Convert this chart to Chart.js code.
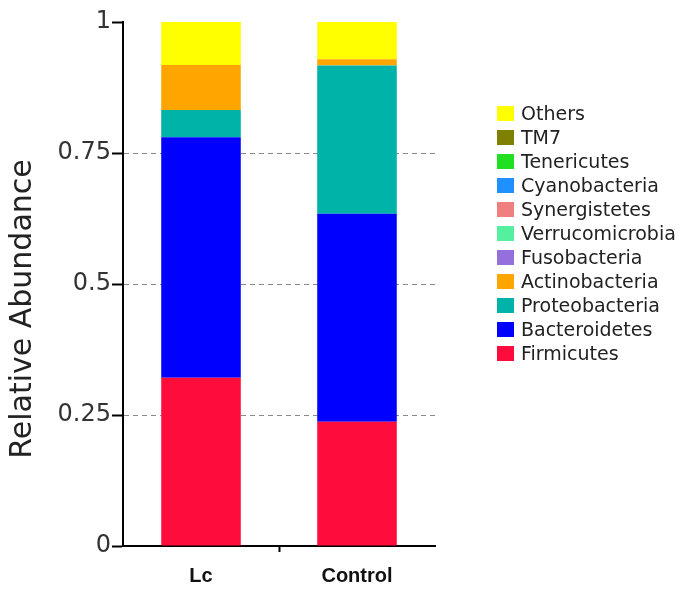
<!DOCTYPE html>
<html lang="en">
<head>
  <meta charset="UTF-8" />
  <title>Relative Abundance</title>
  <style>
    body {
      margin: 0;
      background-color: #ffffff;
    }
    #wrap {
      position: relative;
      width: 688px;
      height: 595px;
    }
    #legend {
      position: absolute;
      left: 497px;
      top: 101px;
      font-family: "DejaVu Sans", sans-serif;
      font-size: 19px;
      color: #222;
    }
    .item {
      display: flex;
      align-items: center;
      height: 24px;
    }
    .box {
      width: 17px;
      height: 15px;
      margin-right: 7px;
    }
  </style>
</head>
<body>
  <div id="wrap">
    <canvas id="chart" width="688" height="595"></canvas>
    <div id="legend"></div>
  </div>

  <script src="https://cdn.jsdelivr.net/npm/chart.js"></script>
  <script>
    const groups = ['Lc', 'Control'];

    // bottom to top of each stack
    const phyla = ['Firmicutes', 'Bacteroidetes', 'Proteobacteria', 'Actinobacteria', 'Fusobacteria',
      'Verrucomicrobia', 'Synergistetes', 'Cyanobacteria', 'Tenericutes', 'TM7', 'Others'];
    const colors = ['#fe0c3c', '#0000ff', '#00b3a8', '#ffa500', '#9370db',
      '#55efa0', '#f08080', '#1e90ff', '#20e020', '#808000', '#ffff00'];

    const lcValues = [0.321, 0.459, 0.052, 0.086, 0, 0, 0, 0, 0, 0, 0.082];
    const controlValues = [0.237, 0.397, 0.283, 0.012, 0, 0, 0, 0, 0, 0, 0.071];

    const yTickValues = [0, 0.25, 0.5, 0.75, 1];
    const yTickLabels = ['0', '0.25', '0.5', '0.75', '1'];
    const yTitle = 'Relative Abundance';

    const datasets = phyla.map((name, i) => ({
      label: name,
      data: [lcValues[i], controlValues[i]],
      backgroundColor: colors[i],
      borderWidth: 0,
      barPercentage: 0.51,
      categoryPercentage: 1.0
    }));

    // y title sits a bit below the axis middle, so draw it by hand
    const yTitlePlugin = {
      id: 'yTitle',
      afterDraw(chart) {
        const c = chart.ctx;
        c.save();
        c.translate(23, 309);
        c.rotate(-Math.PI / 2);
        c.textAlign = 'center';
        c.textBaseline = 'middle';
        c.font = '30px "DejaVu Sans"';
        c.fillStyle = '#222';
        c.fillText(yTitle, 0, 0);
        c.restore();
      }
    };

    new Chart(document.getElementById('chart'), {
      type: 'bar',
      data: { labels: groups, datasets: datasets },
      plugins: [yTitlePlugin],
      options: {
        responsive: false,
        animation: false,
        layout: { padding: { top: 22, right: 253, bottom: 0, left: 0 } },
        plugins: {
          legend: { display: false },
          tooltip: { enabled: false }
        },
        scales: {
          x: {
            stacked: true,
            afterFit: scale => { scale.height = 49; },
            grid: {
              drawOnChartArea: false,
              tickLength: 6,
              tickWidth: 2,
              tickColor: c => c.index === 1 ? '#000' : 'rgba(0,0,0,0)'
            },
            border: { display: true, color: '#000', width: 2 },
            ticks: {
              padding: 12,
              color: '#111',
              font: { family: 'Liberation Sans', size: 20, weight: 'bold' }
            }
          },
          y: {
            stacked: true,
            min: 0,
            max: 1,
            afterFit: scale => { scale.width = 123; },
            afterBuildTicks: scale => {
              scale.ticks = yTickValues.map(v => ({ value: v }));
            },
            grid: {
              color: c => (c.tick && c.tick.value > 0 && c.tick.value < 1) ? '#8a8a8a' : 'rgba(0,0,0,0)',
              lineWidth: 1,
              tickLength: 11,
              tickWidth: 2,
              tickColor: '#000'
            },
            border: { display: true, color: '#000', width: 2, dash: [5, 4] },
            ticks: {
              padding: 1,
              color: '#333',
              font: { family: 'DejaVu Sans', size: 24 },
              callback: v => yTickLabels[yTickValues.indexOf(v)]
            }
          }
        }
      }
    });

    // legend, top entry is the last stack segment
    const legend = document.getElementById('legend');
    for (let i = phyla.length - 1; i >= 0; i--) {
      const row = document.createElement('div');
      row.className = 'item';
      const box = document.createElement('span');
      box.className = 'box';
      box.style.backgroundColor = colors[i];
      const txt = document.createElement('span');
      txt.textContent = phyla[i];
      row.appendChild(box);
      row.appendChild(txt);
      legend.appendChild(row);
    }
  </script>
</body>
</html>
